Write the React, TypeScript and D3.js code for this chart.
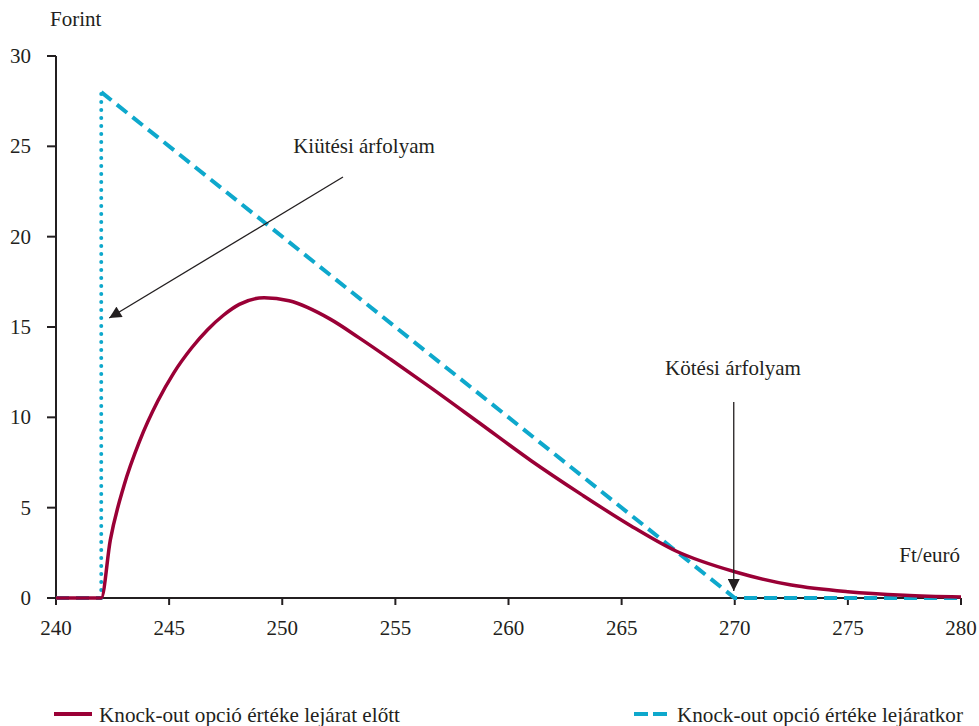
import React from "react";
import * as d3 from "d3";

const xTicks = [240, 245, 250, 255, 260, 265, 270, 275, 280];
const yTicks = [0, 5, 10, 15, 20, 25, 30];

// Knock-out option value before expiry
const beforeX = [240, 242, 242.4, 243, 243.7, 244.5, 245.2, 246, 246.7, 247.4, 248.1, 249.2, 250.3, 252.1, 253.4, 254.8, 256.5, 258.7, 261, 263.2, 265.4, 267.4, 270, 272.5, 275, 277.5, 280];
const beforeY = [0, 0, 3.2, 6.2, 8.7, 10.9, 12.45, 13.85, 14.85, 15.65, 16.25, 16.62, 16.45, 15.45, 14.4, 13.2, 11.7, 9.7, 7.6, 5.75, 4.0, 2.6, 1.45, 0.72, 0.35, 0.15, 0.05];

// Knock-out option value at expiry
const barrier = 242;
const strike = 270;
const atExpiryX = [240, 242, 242, 270, 280];
const atExpiryY = [0, 0, 28, 0, 0];

const seriesNames = ["Knock-out opció értéke lejárat előtt", "Knock-out opció értéke lejáratkor"];
const annotBarrier = "Kiütési árfolyam";
const annotStrike = "Kötési árfolyam";
const yTitle = "Forint";
const xTitle = "Ft/euró";

const RED = "#9a0036";
const BLUE = "#0ea8cc";
const AXIS = "#231f20";
const FONT = "Liberation Serif";

export default function App() {
  const x = d3.scaleLinear().domain([240, 280]).range([56, 961]);
  const y = d3.scaleLinear().domain([0, 30]).range([598, 56]);

  const redPts = beforeX.map((v, i) => [v, beforeY[i]] as [number, number]);
  const redLine = d3
    .line<[number, number]>()
    .x((d) => x(d[0]))
    .y((d) => y(d[1]))
    .curve(d3.curveMonotoneX);

  const straight = d3
    .line<[number, number]>()
    .x((d) => x(d[0]))
    .y((d) => y(d[1]));

  const bluePts = atExpiryX.map((v, i) => [v, atExpiryY[i]] as [number, number]);
  const blueLeft = [bluePts[0], bluePts[1]];
  const blueVert = [bluePts[1], bluePts[2]];
  const blueDiag = [bluePts[2], bluePts[3], bluePts[4]];

  const tStyle = { fontFamily: FONT };

  return (
    <svg
      width={979}
      height={726}
      style={{ position: "absolute", left: 0, top: 0, background: "#fff", fontFamily: FONT }}
    >
      <defs>
        <marker id="arr" viewBox="0 0 10 10" refX="10" refY="5" markerWidth="13" markerHeight="12" markerUnits="userSpaceOnUse" orient="auto">
          <path d="M0,0 L10,5 L0,10 z" fill={AXIS} />
        </marker>
      </defs>

      {/* axes */}
      <line x1={x(240)} x2={x(240)} y1={y(30)} y2={y(0)} stroke={AXIS} strokeWidth={2} />
      <line x1={47} x2={x(280)} y1={y(0)} y2={y(0)} stroke={AXIS} strokeWidth={2} />
      {yTicks.map((t) => (
        <g key={"y" + t}>
          <line x1={47} x2={x(240)} y1={y(t)} y2={y(t)} stroke={AXIS} strokeWidth={2} />
          <text x={31} y={y(t) + 7} textAnchor="end" fontSize={21} fill={AXIS} style={tStyle}>
            {t}
          </text>
        </g>
      ))}
      {xTicks.map((t) => (
        <g key={"x" + t}>
          <line x1={x(t)} x2={x(t)} y1={y(0)} y2={y(0) + 7} stroke={AXIS} strokeWidth={2} />
          <text x={x(t)} y={635} textAnchor="middle" fontSize={21} fill={AXIS} style={tStyle}>
            {t}
          </text>
        </g>
      ))}
      <text x={50} y={26} fontSize={21} fill={AXIS} style={tStyle}>{yTitle}</text>
      <text x={960} y={562} fontSize={21} fill={AXIS} textAnchor="end" style={tStyle}>{xTitle}</text>

      {/* at-expiry series */}
      <path d={straight(blueLeft as any) || ""} fill="none" stroke={BLUE} strokeWidth={4} strokeDasharray="13 7" />
      <path d={straight(blueVert as any) || ""} fill="none" stroke={BLUE} strokeWidth={4} strokeDasharray="0.1 7.9" strokeLinecap="round" />
      <path d={straight(blueDiag as any) || ""} fill="none" stroke={BLUE} strokeWidth={4} strokeDasharray="13 7" />

      {/* before-expiry series */}
      <path d={redLine(redPts) || ""} fill="none" stroke={RED} strokeWidth={3.5} />

      {/* annotations */}
      <text x={364} y={153} textAnchor="middle" fontSize={21} fill={AXIS} style={tStyle}>{annotBarrier}</text>
      <line x1={343} y1={177} x2={x(barrier) + 8} y2={318} stroke={AXIS} strokeWidth={1.3} markerEnd="url(#arr)" />
      <text x={733} y={375} textAnchor="middle" fontSize={21} fill={AXIS} style={tStyle}>{annotStrike}</text>
      <line x1={x(strike) - 1} y1={402} x2={x(strike) - 1} y2={591} stroke={AXIS} strokeWidth={1.3} markerEnd="url(#arr)" />

      {/* legend */}
      <line x1={54} x2={92} y1={714} y2={714} stroke={RED} strokeWidth={4} />
      <text x={99} y={722} fontSize={21} fill={AXIS} textLength={301} lengthAdjust="spacingAndGlyphs" style={tStyle}>
        {seriesNames[0]}
      </text>
      <line x1={634} x2={668} y1={714} y2={714} stroke={BLUE} strokeWidth={4} strokeDasharray="14 5" />
      <text x={677} y={722} fontSize={21} fill={AXIS} textLength={286} lengthAdjust="spacingAndGlyphs" style={tStyle}>
        {seriesNames[1]}
      </text>
    </svg>
  );
}
